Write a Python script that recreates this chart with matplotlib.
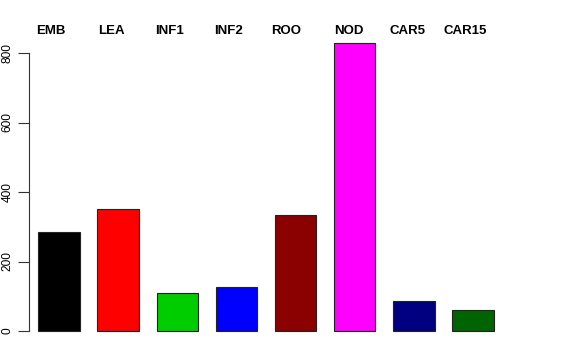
import matplotlib
matplotlib.use("Agg")
import matplotlib.pyplot as plt

categories = ["EMB", "LEA", "INF1", "INF2", "ROO", "NOD", "CAR5", "CAR15"]
values = [286, 351, 108, 128, 333, 828, 87, 60]
colors = ["#000000", "#FF0000", "#00CD00", "#0000FF", "#8B0000", "#FF00FF", "#000080", "#006400"]
yticks = [0, 200, 400, 600, 800]

# layout: left pixel edge of each header label
label_left_px = [36, 98, 155, 214, 271, 334, 389, 443]

plt.rcParams['font.family'] = ['Liberation Sans', 'DejaVu Sans']

W, H = 576, 360
fig = plt.figure(figsize=(W / 100, H / 100), dpi=100)

left_px, right_px = 29, 520
top_px, bottom_px = 40, 340
ax = fig.add_axes([left_px / W, 1 - bottom_px / H, (right_px - left_px) / W, (bottom_px - top_px) / H])

a, b = 59.0, 59.14
ax.set_xlim((left_px - a) / b, (right_px - a) / b)
s = (331 - 53) / 800.0
ax.set_ylim(-(bottom_px - 331) / s, (331 - top_px) / s)

x = list(range(len(categories)))
ax.bar(x, values, width=0.7, color=colors, edgecolor="#222222", linewidth=0.8)

for c, lp in zip(categories, label_left_px):
    fig.text(lp / W, 1 - 30.5 / H, c, fontsize=9.5, fontweight="bold",
             ha="left", va="center")

for sp in ["top", "right", "bottom"]:
    ax.spines[sp].set_visible(False)
ax.spines["left"].set_bounds(0, 800)
ax.spines["left"].set_color("#333333")
ax.set_xticks([])
ax.set_yticks(yticks)
ax.set_yticklabels([str(v) for v in yticks], rotation=90, va="center", fontsize=8.6)
ax.tick_params(axis="y", length=8, width=0.8, color="#333333", pad=3)

fig.savefig("out.png", dpi=100)
